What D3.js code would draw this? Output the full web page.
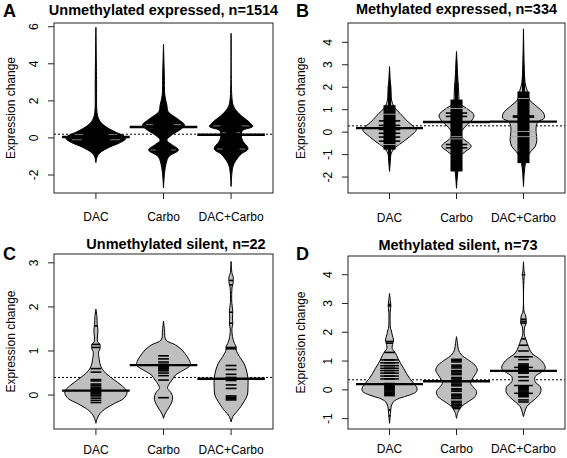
<!DOCTYPE html>
<html><head><meta charset="utf-8">
<script src="https://cdn.jsdelivr.net/npm/d3@7"></script>
<style>body{margin:0;background:#fff}svg{display:block}text{font-family:"Liberation Sans",Arial,Helvetica,sans-serif;fill:#000}</style>
</head><body>
<script>
// ---------------- data ----------------
const groups = ["DAC", "Carbo", "DAC+Carbo"];
const titles = ["Unmethylated expressed, n=1514", "Methylated expressed, n=334", "Unmethylated silent, n=22", "Methylated silent, n=73"];
const letters = ["A", "B", "C", "D"];
const yLabel = "Expression change";

const ticksA = [-2, 0, 2, 4, 6];
const ticksB = [-2, -1, 0, 1, 2, 3, 4];
const ticksC = [0, 1, 2, 3];
const ticksD = [-1, 0, 1, 2, 3, 4];

const meansA = [0.05, 0.59, 0.17];
const meansB = [0.18, 0.45, 0.47];
const meansC = [0.1, 0.68, 0.37];
const meansD = [0.2, 0.3, 0.66];
const overall = [0.2, 0.28, 0.4, 0.35];

// bean density outlines: [value, half-width in group units]
const densA_DAC = [[-1.33,0],[-1.0,0.02],[-0.8,0.06],[-0.5,0.2],[-0.25,0.36],[-0.05,0.44],[0.1,0.42],[0.3,0.3],[0.6,0.15],[0.9,0.06],[1.2,0.025],[1.6,0.012],[3.0,0.01],[5.97,0]];
const densA_Carbo = [[-2.7,0],[-1.9,0.015],[-1.35,0.04],[-1.0,0.08],[-0.65,0.22],[-0.35,0.12],[-0.12,0.05],[0.23,0.15],[0.45,0.25],[0.7,0.31],[1.05,0.2],[1.41,0.07],[1.77,0.05],[2.3,0.02],[3.4,0.012],[5.05,0]];
const densA_Combo = [[-2.62,0],[-1.58,0.025],[-1.22,0.07],[-0.86,0.15],[-0.6,0.25],[-0.14,0.17],[0.13,0.15],[0.4,0.17],[0.62,0.32],[0.85,0.27],[1.3,0.12],[1.68,0.04],[2.07,0.015],[5.64,0]];

const densB_DAC = [[-1.75,0],[-1.3,0.012],[-1.0,0.02],[-0.86,0.04],[-0.71,0.075],[-0.49,0.175],[-0.2,0.3],[0.1,0.4],[0.25,0.36],[0.45,0.28],[0.7,0.2],[0.95,0.12],[1.14,0.065],[1.43,0.03],[1.7,0.025],[2.03,0.02],[2.25,0.012],[2.92,0]];
const densB_Carbo = [[-2.5,0],[-2.0,0.012],[-1.6,0.025],[-1.3,0.035],[-1.09,0.05],[-0.86,0.135],[-0.64,0.22],[-0.49,0.185],[-0.3,0.1],[-0.12,0.06],[0.1,0.09],[0.33,0.16],[0.55,0.235],[0.77,0.26],[0.99,0.185],[1.29,0.05],[1.6,0.035],[2.0,0.03],[2.6,0.015],[3.0,0.01],[3.59,0]];
const densB_Combo = [[-2.42,0],[-1.8,0.012],[-1.38,0.03],[-1.09,0.06],[-0.86,0.11],[-0.64,0.175],[-0.34,0.2],[-0.05,0.19],[0.25,0.19],[0.47,0.22],[0.62,0.31],[0.85,0.3],[1.14,0.2],[1.44,0.09],[1.81,0.06],[2.1,0.03],[2.33,0.02],[3.0,0.01],[4.6,0]];

const densC_DAC = [[-0.64,0],[-0.53,0.02],[-0.42,0.06],[-0.3,0.15],[-0.19,0.275],[-0.08,0.41],[0.04,0.46],[0.11,0.45],[0.23,0.37],[0.34,0.275],[0.49,0.15],[0.64,0.075],[0.8,0.05],[0.98,0.04],[1.05,0.06],[1.15,0.06],[1.21,0.025],[1.48,0.03],[1.6,0.02],[1.78,0.015],[1.95,0]];
const densC_Carbo = [[-0.53,0],[-0.45,0.015],[-0.38,0.04],[-0.27,0.085],[-0.15,0.125],[-0.04,0.135],[0.08,0.1],[0.15,0.06],[0.23,0.075],[0.34,0.125],[0.45,0.175],[0.57,0.3],[0.68,0.4],[0.76,0.39],[0.87,0.35],[1.02,0.275],[1.14,0.175],[1.25,0.035],[1.48,0.015],[1.68,0]];
const densC_Combo = [[-0.61,0],[-0.49,0.025],[-0.42,0.06],[-0.3,0.125],[-0.15,0.19],[0.0,0.24],[0.19,0.25],[0.38,0.25],[0.57,0.225],[0.72,0.19],[0.87,0.125],[1.02,0.075],[1.1,0.075],[1.17,0.05],[1.33,0.02],[1.5,0.012],[1.62,0.025],[1.75,0.02],[1.9,0.025],[2.1,0.01],[2.45,0.015],[2.54,0.03],[2.69,0.03],[2.75,0.015],[3.03,0]];

const densD_DAC = [[-1.16,0],[-0.81,0.015],[-0.58,0.025],[-0.41,0.06],[-0.29,0.15],[-0.18,0.3],[-0.06,0.4],[0.06,0.41],[0.23,0.36],[0.4,0.3],[0.58,0.25],[0.75,0.21],[0.92,0.165],[1.1,0.125],[1.27,0.09],[1.44,0.04],[1.62,0.05],[1.73,0.06],[1.91,0.04],[2.08,0.025],[2.14,0.015],[2.7,0.01],[2.92,0.02],[3.1,0.012],[3.35,0]];
const densD_Carbo = [[-0.99,0],[-0.76,0.025],[-0.58,0.075],[-0.41,0.175],[-0.24,0.275],[-0.06,0.3],[0.09,0.25],[0.23,0.21],[0.34,0.225],[0.52,0.275],[0.69,0.31],[0.86,0.275],[1.04,0.175],[1.21,0.075],[1.39,0.03],[1.62,0.015],[1.85,0]];
const densD_Combo = [[-0.93,0],[-0.76,0.02],[-0.58,0.05],[-0.41,0.125],[-0.24,0.21],[-0.06,0.26],[0.11,0.25],[0.28,0.175],[0.46,0.175],[0.63,0.275],[0.75,0.325],[0.92,0.3],[1.1,0.225],[1.27,0.125],[1.5,0.075],[1.73,0.04],[1.85,0.02],[1.95,0.01],[2.2,0.02],[2.3,0.04],[2.45,0.04],[2.6,0.03],[2.7,0.01],[3.9,0.01],[4.0,0.02],[4.1,0.01],[4.45,0]];

// panel A: gray gaps showing through the black beans [group index, value]
const gapsA = [[0,0.18],[0,-0.1],[1,0.72],[1,0.55],[1,-0.65],[2,0.65],[2,0.28],[2,-0.6]];

// panel B: solid runs of bean lines [low, high]
const bandsB = [[-0.78,1.2],[-1.75,1.45],[-1.38,1.81]];
const wideB_DAC = [0.5,0.3,0.12,-0.05,-0.22,-0.4];
const wideB_Carbo = [0.85,0.7,-0.55,-0.7];
const wideB_Combo = [0.72,0.67];
const grayB_DAC = [-0.55,0.8];
const grayB_Carbo = [1.05,-0.3,-0.2];
const grayB_Combo = [1.5,0.03,-0.2];

// panel C: individual bean lines
const linesC_DAC = [1.85,1.57,1.15,1.08,0.6,0.52,0.35,0.32,0.25,0.22,0.18,0.15,0.12,0.1,0.08,0.05,0.03,0.0,-0.02,-0.07,-0.12,-0.17];
const linesC_Carbo = [0.89,0.82,0.75,0.7,0.67,0.64,0.62,0.6,0.57,0.55,0.5,0.44,0.34,-0.06];
const linesC_Combo = [2.6,2.5,1.88,1.63,1.08,1.05,0.67,0.58,0.47,0.4,0.37,0.33,0.23,0.15,-0.02,-0.05,-0.08,-0.11];

// panel D: individual bean lines
const linesD_DAC = [-0.9,-0.7,-0.2,-0.16,-0.12,-0.08,-0.04,0,0.04,0.08,0.12,0.16,0.2,0.22,0.38,0.48,0.58,0.67,0.75,0.84,0.94,1.04,1.3,1.62,1.68,2.92,2.97];
const linesD_Carbo = [-0.65,-0.6,-0.55,-0.5,-0.45,-0.4,-0.3,-0.25,-0.2,-0.15,-0.05,0,0.04,0.14,0.19,0.24,0.34,0.39,0.43,0.53,0.58,0.63,0.67,0.76,0.81,0.86,0.97,1.02,1.06];
const linesD_Combo = [-0.42,-0.35,-0.24,-0.2,-0.16,-0.12,-0.08,-0.04,0,0.04,0.08,0.12,0.32,0.45,0.58,0.62,0.66,0.7,0.74,0.78,0.82,0.86,0.9,1.05,1.15,1.35,1.55,1.77,2.32,2.38,2.45,4.0];
const wideD_DAC = [0.38,0.48,0.58,0.67,0.75,0.84,0.94,1.04];
const wideD_Carbo = [];
const wideD_Combo = [1.15,0.78,0.15,-0.12];

// ---------------- drawing ----------------
const W = 567, H = 458;
const svg = d3.select("body").append("svg").attr("width", W).attr("height", H);

const panels = [
  {title: titles[0], letter: letters[0], box: [54, 273, 23, 193], ydom: [-2.97, 6.2], ticks: ticksA,
   dens: [densA_DAC, densA_Carbo, densA_Combo], means: meansA, overall: overall[0], mode: "dark",
   titleX: 163.5, titleY: 15, letX: 3, letY: 16.5, ylabX: 15, xlabY: 221},
  {title: titles[1], letter: letters[1], box: [348, 565, 23, 193], ydom: [-2.71, 4.86], ticks: ticksB,
   dens: [densB_DAC, densB_Carbo, densB_Combo], means: meansB, overall: overall[1], mode: "band",
   bands: bandsB, wide: [wideB_DAC, wideB_Carbo, wideB_Combo], gray: [grayB_DAC, grayB_Carbo, grayB_Combo],
   titleX: 456.5, titleY: 14, letX: 296, letY: 16.5, ylabX: 305, xlabY: 222},
  {title: titles[2], letter: letters[2], box: [54, 273, 254, 429], ydom: [-0.77, 3.2], ticks: ticksC,
   dens: [densC_DAC, densC_Carbo, densC_Combo], means: meansC, overall: overall[2], mode: "lines",
   lines: [linesC_DAC, linesC_Carbo, linesC_Combo], wide: [[], [], []],
   titleX: 176, titleY: 249, letX: 3, letY: 260, ylabX: 15, xlabY: 454},
  {title: titles[3], letter: letters[3], box: [348, 565, 256, 429], ydom: [-1.36, 4.65], ticks: ticksD,
   dens: [densD_DAC, densD_Carbo, densD_Combo], means: meansD, overall: overall[3], mode: "lines",
   lines: [linesD_DAC, linesD_Carbo, linesD_Combo], wide: [wideD_DAC, wideD_Carbo, wideD_Combo],
   titleX: 458, titleY: 249.5, letX: 296, letY: 260, ylabX: 305, xlabY: 453}
];

const GRAY = "#bfbfbf";

panels.forEach(p => {
  const [L, R, T, B] = p.box;
  const g = svg.append("g");
  const x = d3.scaleLinear().domain([0.38, 3.62]).range([L, R]);
  const y = d3.scaleLinear().domain(p.ydom).range([B, T]);
  const cx = i => i + 1;

  const clipId = "clip" + p.letter;
  g.append("clipPath").attr("id", clipId).append("rect").attr("x", L).attr("y", T).attr("width", R - L).attr("height", B - T);
  const plot = g.append("g").attr("clip-path", `url(#${clipId})`);

  // overall dotted line
  plot.append("line").attr("x1", x(0.38)).attr("x2", x(3.62)).attr("y1", y(p.overall)).attr("y2", y(p.overall))
    .attr("stroke", "#000").attr("stroke-width", 1).attr("stroke-dasharray", "2,2");

  p.dens.forEach((d, i) => {
    const c = cx(i);
    const hwAt = d3.scaleLinear().domain(d.map(e => e[0])).range(d.map(e => e[1])).clamp(true);
    const area = d3.area()
      .y(e => y(e[0]))
      .x0(e => x(c - e[1]))
      .x1(e => x(c + e[1]))
      .curve(d3.curveCatmullRom.alpha(0.5));
    plot.append("path").datum(d).attr("d", area)
      .attr("fill", p.mode === "dark" ? "#000" : GRAY)
      .attr("stroke", "#000").attr("stroke-width", 1);

    const seg = (v, hw, color, sw) => {
      const h = Math.min(hw, hwAt(v));
      plot.append("line").attr("x1", x(c - h)).attr("x2", x(c + h)).attr("y1", y(v)).attr("y2", y(v))
        .attr("stroke", color).attr("stroke-width", sw);
    };

    if (p.mode === "dark") {
      gapsA.filter(e => e[0] === i).forEach(e => {
        const v = e[1], h = hwAt(v);
        [-1, 1].forEach(s => {
          plot.append("line").attr("x1", x(c + s * h * 0.5)).attr("x2", x(c + s * h * 0.85))
            .attr("y1", y(v)).attr("y2", y(v)).attr("stroke", "#7a7a7a").attr("stroke-width", 1);
        });
      });
    }
    if (p.mode === "band") {
      // thin black spine of bean lines through the whole bean (clipped to bean width)
      const spine = d3.area().y(e => y(e[0]))
        .x0(e => x(c - Math.min(e[1], 0.022))).x1(e => x(c + Math.min(e[1], 0.022)))
        .curve(d3.curveCatmullRom.alpha(0.5));
      plot.append("path").datum(d).attr("d", spine).attr("fill", "#000");
      p.wide[i].forEach(v => seg(v, 0.16, "#000", 1.6));
      const [lo, hi] = p.bands[i];
      plot.append("rect").attr("x", x(c - 0.09)).attr("width", x(c + 0.09) - x(c - 0.09))
        .attr("y", y(hi)).attr("height", y(lo) - y(hi)).attr("fill", "#000");
      p.gray[i].forEach(v => seg(v, 1, "#a8a8a8", 0.9));
    }
    if (p.mode === "lines") {
      p.wide[i].forEach(v => seg(v, 0.14, "#000", 1.5));
      p.lines[i].forEach(v => seg(v, 0.08, "#000", 1.6));
    }
    // group average line
    plot.append("line").attr("x1", x(c - 0.5)).attr("x2", x(c + 0.5)).attr("y1", y(p.means[i])).attr("y2", y(p.means[i]))
      .attr("stroke", "#000").attr("stroke-width", 2.4);
  });

  // box
  g.append("rect").attr("x", L).attr("y", T).attr("width", R - L).attr("height", B - T)
    .attr("fill", "none").attr("stroke", "#222").attr("stroke-width", 1);

  // y axis ticks
  p.ticks.forEach(t => {
    g.append("line").attr("x1", L - 6).attr("x2", L).attr("y1", y(t)).attr("y2", y(t)).attr("stroke", "#222");
    g.append("text").attr("transform", `translate(${L - 16.5},${y(t)}) rotate(-90)`)
      .attr("text-anchor", "middle").attr("font-size", 12).text(t);
  });
  // x axis ticks
  groups.forEach((name, i) => {
    g.append("line").attr("x1", x(i + 1)).attr("x2", x(i + 1)).attr("y1", B).attr("y2", B + 6).attr("stroke", "#222");
    g.append("text").attr("x", x(i + 1)).attr("y", p.xlabY).attr("text-anchor", "middle").attr("font-size", 12).text(name);
  });
  // y label
  g.append("text").attr("transform", `translate(${p.ylabX},${(T + B) / 2}) rotate(-90)`)
    .attr("text-anchor", "middle").attr("font-size", 12).text(yLabel);
  // title
  g.append("text").attr("x", p.titleX).attr("y", p.titleY).attr("text-anchor", "middle")
    .attr("font-size", 14.5).attr("font-weight", "bold").text(p.title);
  // panel letter
  g.append("text").attr("x", p.letX).attr("y", p.letY).attr("font-size", 18).attr("font-weight", "bold").text(p.letter);
});
</script>
</body></html>
